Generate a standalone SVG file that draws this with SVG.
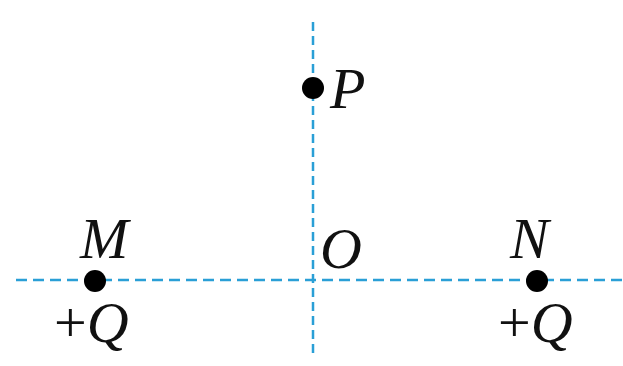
<svg xmlns="http://www.w3.org/2000/svg" width="623" height="366" viewBox="0 0 623 366">
<style>
.axis{stroke:#2a9fd6;stroke-width:2.5;fill:none}
.dot{fill:#000}
.lbl{font-family:"Liberation Serif","Times New Roman",serif;font-style:italic;font-size:58px;fill:#111}
.up{font-style:normal}
</style>
<rect width="623" height="366" fill="#fff"/>
<g id="connectors">
<line class="axis" x1="16" y1="280" x2="623" y2="280" stroke-dasharray="11,6"/>
<line class="axis" x1="313" y1="22" x2="313" y2="356" stroke-dasharray="9,5"/>
</g>
<g id="P"><circle class="dot" cx="313" cy="88" r="11"/><text class="lbl" x="330" y="108">P</text></g>
<g id="O"><text class="lbl" x="320" y="268">O</text></g>
<g id="M"><circle class="dot" cx="95" cy="281" r="11"/><text class="lbl" x="80" y="258">M</text><text class="lbl" x="54" y="342"><tspan class="up">+</tspan>Q</text></g>
<g id="N"><circle class="dot" cx="537" cy="281" r="11"/><text class="lbl" x="510" y="258">N</text><text class="lbl" x="498" y="342"><tspan class="up">+</tspan>Q</text></g>
</svg>
